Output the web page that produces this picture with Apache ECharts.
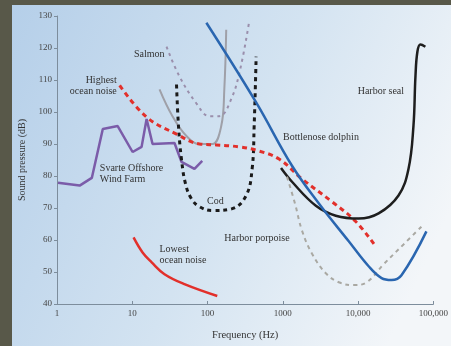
<!DOCTYPE html>
<html><head><meta charset="utf-8">
<script src="https://cdn.jsdelivr.net/npm/echarts@6/dist/echarts.min.js"></script>
<style>html,body{margin:0;padding:0;background:#585849;}#c{width:451px;height:346px;}</style>
</head><body><div id="c"></div>
<script>
// ---- data (frequency in Hz, level in dB) ----
const yTicks = [40,50,60,70,80,90,100,110,120,130];
const xTickLabels = ['1','10','100','1000','10,000','100,000'];

const windFarmFreq = [1.03, 2.0, 2.9, 4.06, 6.4, 10.1, 13.3, 15.5, 18.6, 36.4, 45, 67, 85];
const windFarmDb   = [77.9, 77.0, 79.4, 94.7, 95.6, 87.5, 89.1, 97.8, 90.0, 90.3, 84.4, 82.2, 84.7];

const lowestFreq = [10.4, 13.7, 18.1, 26.8, 49.3, 134.6];
const lowestDb   = [60.8, 56.1, 53.0, 49.3, 46.2, 42.5];

const highestFreq = [6.8, 15.5, 38.7, 78, 131, 263, 484, 891, 1795, 4475, 9300, 17100];
const highestDb   = [108.3, 98.4, 93.1, 90.0, 89.7, 89.1, 87.8, 85.3, 79.1, 72.0, 65.8, 58.0];

const codFreq = [38.7, 41.1, 45, 50.9, 61, 78, 116, 213, 326, 391, 416, 442];
const codDb   = [108.6, 95.6, 85.3, 77.6, 72.9, 70.4, 69.2, 69.8, 73.9, 82.2, 95.6, 117.3];

const salmonFreq = [28.5, 42.4, 71.1, 105.6, 143, 206, 271, 357];
const salmonDb   = [120.4, 111.1, 102.7, 98.7, 98.7, 104.0, 113.3, 128.2];

const grayFreq = [23, 34.2, 52.4, 78, 116, 152, 167, 177];
const grayDb   = [107.1, 98.7, 92.5, 90.0, 90.0, 95.6, 107.1, 125.7];

const dolphinFreq = [96.4, 442, 1324, 3013, 7510, 13800, 20500, 27800, 37700, 80800];
const dolphinDb   = [127.9, 103.0, 83.2, 71.4, 59.6, 51.8, 48.1, 47.5, 49.0, 62.7];

const sealFreq = [946, 1324, 2748, 5055, 10190, 18720, 34430, 46700, 54350, 57800, 61400, 67300, 78300];
const sealDb   = [82.5, 78.2, 70.7, 67.6, 66.7, 68.3, 73.9, 82.2, 95.6, 111.1, 118.9, 121.1, 120.4];

const porpoiseFreq = [1136, 1450, 1795, 2433, 3726, 5540, 8750, 13000, 21800, 40100, 73800];
const porpoiseDb   = [79.8, 71.4, 63.0, 55.8, 49.6, 46.8, 45.9, 46.8, 52.4, 58.6, 64.8];

// annotation labels: [freq, dB, text, align]
const labelFreq  = [26.8, 6.22, 3.71, 127, 1007, 9880, 167, 23];
const labelDb    = [118.0, 108.2, 80.7, 72.0, 92.2, 106.5, 60.5, 55.5];
const labelText  = ['Salmon', 'Highest\nocean noise', 'Svarte Offshore\nWind Farm', 'Cod', 'Bottlenose dolphin', 'Harbor seal', 'Harbor porpoise', 'Lowest\nocean noise'];
const labelAlign = ['right', 'right', 'left', 'center', 'left', 'left', 'left', 'left'];

const zip = (a, b) => a.map((v, i) => [v, b[i]]);
const FONT = 'Liberation Serif';

const chart = echarts.init(document.getElementById('c'));
function line(data, color, width, type, smooth) {
  return { type: 'line', data: data, symbol: 'none', smooth: smooth,
    lineStyle: { color: color, width: width, type: type, cap: 'butt' }, z: 3 };
}
function bg() {
  return { type: 'rect', z: -10, silent: true, shape: { x: 12, y: 5, width: 439, height: 341 },
    style: { fill: new echarts.graphic.LinearGradient(0, 0, 1, 0.6, [
      { offset: 0, color: '#b5cfe9' }, { offset: 0.55, color: '#d3e3f1' }, { offset: 1, color: '#f3f6f9' }]) } };
}
chart.setOption({
  animation: false,
  backgroundColor: '#585849',
  grid: { left: 57, right: 16, top: 16, bottom: 40 },
  graphic: [bg()],
  xAxis: { type: 'log', logBase: 10, min: 1, max: 100000,
    name: 'Frequency (Hz)', nameLocation: 'middle', nameGap: 26,
    nameTextStyle: { fontFamily: FONT, fontSize: 10.5, color: '#333' },
    axisLine: { lineStyle: { color: '#7d8d9c', width: 1 } },
    axisTick: { inside: true, length: 3, lineStyle: { color: '#7d8d9c' } },
    splitLine: { show: false }, minorTick: { show: false },
    axisLabel: { fontFamily: FONT, fontSize: 9, color: '#444', margin: 5,
      formatter: v => xTickLabels[Math.round(Math.log10(v))] } },
  yAxis: { type: 'value', min: yTicks[0], max: yTicks[yTicks.length - 1], interval: 10,
    name: 'Sound pressure (dB)', nameLocation: 'middle', nameGap: 29,
    nameTextStyle: { fontFamily: FONT, fontSize: 10, color: '#333' },
    axisLine: { show: true, lineStyle: { color: '#7d8d9c', width: 1 } },
    axisTick: { show: true, length: 3, lineStyle: { color: '#7d8d9c' } },
    splitLine: { show: false },
    axisLabel: { fontFamily: FONT, fontSize: 9, color: '#444', margin: 5 } },
  series: [
    line(zip(windFarmFreq, windFarmDb), '#7b5ca9', 2.5, 'solid', false),
    line(zip(lowestFreq, lowestDb), '#e2302b', 2.5, 'solid', 0.4),
    line(zip(grayFreq, grayDb), '#9fa0a8', 2, 'solid', 0.4),
    line(zip(salmonFreq, salmonDb), '#9a8fac', 2, [3, 4], 0.4),
    line(zip(codFreq, codDb), '#1a1a1a', 3, [4, 4], 0.4),
    line(zip(highestFreq, highestDb), '#e2302b', 3, [5, 4], 0.4),
    line(zip(sealFreq, sealDb), '#1e1e1e', 2.5, 'solid', 0.4),
    line(zip(porpoiseFreq, porpoiseDb), '#a9a8a2', 2, [4, 4], 0.4),
    line(zip(dolphinFreq, dolphinDb), '#2a66b0', 2.5, 'solid', 0.4)
  ]
});
const texts = labelText.map((t, i) => {
  const p = chart.convertToPixel({ gridIndex: 0 }, [labelFreq[i], labelDb[i]]);
  return { type: 'text', x: p[0], y: p[1], z: 5, silent: true,
    style: { text: t, fill: '#333', font: '10px "' + FONT + '"', align: labelAlign[i], verticalAlign: 'middle', lineHeight: 11 } };
});
chart.setOption({ graphic: [bg()].concat(texts) });
</script></body></html>
